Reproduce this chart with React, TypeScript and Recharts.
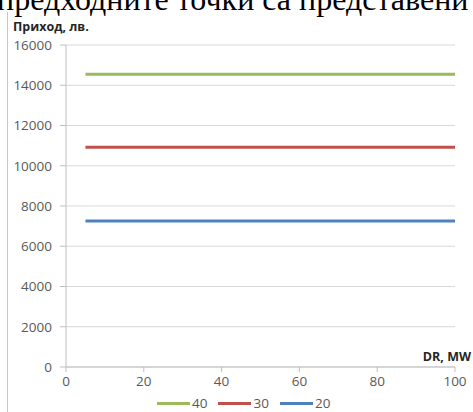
import { LineChart, Line, XAxis, YAxis, CartesianGrid } from 'recharts';

// DR, MW
const drValues = [5, 20, 40, 60, 80, 100];
// Приход, лв. for 40 / 30 / 20
const income40 = [14550, 14550, 14550, 14550, 14550, 14550];
const income30 = [10920, 10920, 10920, 10920, 10920, 10920];
const income20 = [7260, 7260, 7260, 7260, 7260, 7260];

const xTicks = [0, 20, 40, 60, 80, 100];
const yTicks = [0, 2000, 4000, 6000, 8000, 10000, 12000, 14000, 16000];

const series = [
  { key: 's40', name: '40', color: '#9BBB59', values: income40 },
  { key: 's30', name: '30', color: '#C0504D', values: income30 },
  { key: 's20', name: '20', color: '#4F81BD', values: income20 },
];

const data = drValues.map((dr, i) => {
  const row: Record<string, number> = { dr };
  series.forEach(s => { row[s.key] = s.values[i]; });
  return row;
});

const labelFont = '"Open Sans", sans-serif';
const tickStyle = { fontSize: 13.5, fontFamily: labelFont, fill: '#595959' };

export default function App() {
  return (
    <div style={{ position: 'absolute', left: 0, top: 0, width: 473, height: 412, overflow: 'hidden', background: '#fff' }}>
      <div style={{
        position: 'absolute', left: -3, top: -17, whiteSpace: 'nowrap',
        fontFamily: '"Liberation Serif", serif', fontSize: 32, lineHeight: '32px', color: '#000',
      }}>
        предходните точки са представени
      </div>
      <div style={{ position: 'absolute', left: 7, top: 12, width: 1, height: 400, background: '#c8c8c8' }} />
      <div style={{
        position: 'absolute', left: 13, top: 19, fontFamily: labelFont, fontWeight: 700,
        fontSize: 12.5, lineHeight: '16px', color: '#262626', whiteSpace: 'nowrap',
      }}>
        Приход, лв.
      </div>
      <div style={{
        position: 'absolute', right: 2, top: 349, fontFamily: labelFont, fontWeight: 700,
        fontSize: 12.5, lineHeight: '16px', color: '#262626', whiteSpace: 'nowrap',
      }}>
        DR, MW
      </div>

      <LineChart width={473} height={412} data={data} margin={{ top: 45, right: 18, bottom: 0, left: 0 }}>
        <CartesianGrid vertical={false} stroke="#d9d9d9" />
        <XAxis
          dataKey="dr" type="number" domain={[0, 100]} ticks={xTicks}
          height={45} tick={tickStyle} tickSize={5} tickMargin={4}
          axisLine={{ stroke: '#bfbfbf' }} tickLine={{ stroke: '#bfbfbf' }}
        />
        <YAxis
          type="number" domain={[0, 16000]} ticks={yTicks} width={66}
          tick={tickStyle} tickSize={6} tickMargin={8} interval={0}
          axisLine={{ stroke: '#bfbfbf' }} tickLine={{ stroke: '#bfbfbf' }}
        />
        {series.map(s => (
          <Line
            key={s.key} dataKey={s.key} name={s.name} stroke={s.color} strokeWidth={3}
            dot={false} activeDot={false} isAnimationActive={false}
          />
        ))}
      </LineChart>

      <div style={{ position: 'absolute', left: 157, top: 394, display: 'flex', alignItems: 'center' }}>
        {series.map(s => (
          <div key={s.key} style={{ display: 'flex', alignItems: 'center', marginRight: 11 }}>
            <div style={{ width: 33, height: 3, background: s.color }} />
            <span style={{ fontFamily: labelFont, fontSize: 13.5, color: '#595959', marginLeft: 2, lineHeight: '18px' }}>{s.name}</span>
          </div>
        ))}
      </div>
    </div>
  );
}
